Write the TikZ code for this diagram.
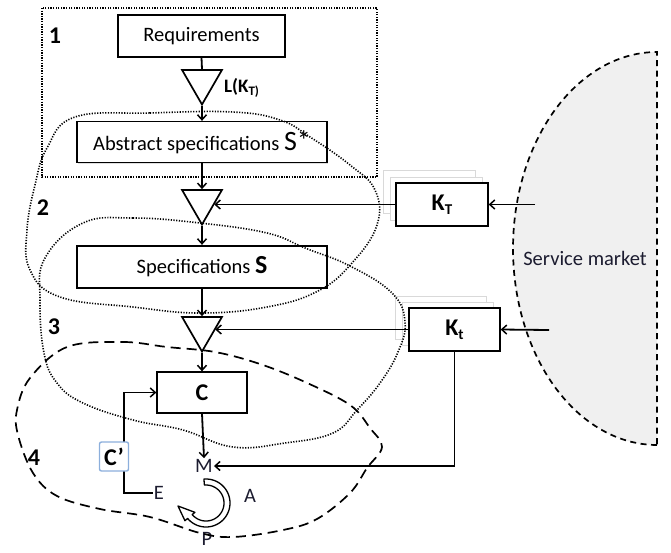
\documentclass[tikz,border=0pt]{standalone}
\usepackage{fontspec}
\setmainfont{Carlito}
\usetikzlibrary{shapes.geometric,arrows.meta,shadows,calc}
\definecolor{ink}{RGB}{28,28,48}
\definecolor{cpblue}{RGB}{140,175,220}
\begin{document}
\begin{tikzpicture}[x=1pt,y=-1pt,
  box/.style={draw, line width=1.3pt, fill=white, inner sep=0pt,
    font=\fontsize{20.5}{24}\selectfont,
    drop shadow={shadow xshift=1.3pt,shadow yshift=-1.3pt,fill=black!25}},
  kbox/.style={box, minimum width=92pt, minimum height=43pt, font=\bfseries\fontsize{24}{26}\selectfont},
  ghost/.style={draw=black!15, line width=0.9pt, fill=white, minimum width=92pt, minimum height=43pt},
  tri/.style={draw, regular polygon, regular polygon sides=3, shape border rotate=180,
    minimum size=46pt, inner sep=0pt, line width=1.7pt},
  ln/.style={line width=1.8pt},
  arr/.style={line width=1.8pt, -{Straight Barb[length=5pt,width=9pt,line width=1.5pt]}},
  lbl/.style={inner sep=1pt, text=ink, font=\fontsize{20.5}{24}\selectfont},
  num/.style={inner sep=0pt, font=\bfseries\fontsize{24}{26}\selectfont},
  dotl/.style={line width=1.6pt, dash pattern=on 1.2pt off 1.5pt},
  dashl/.style={line width=1.7pt, dash pattern=on 10pt off 6pt}
]
\useasboundingbox (0,0) rectangle (671,552);

% service market
\path[fill=black!6, draw, line width=1.7pt, dash pattern=on 6pt off 4.5pt]
  plot[domain=90:270, samples=90] ({657+144*cos(\x)},{248.5+196.5*sin(\x)}) -- cycle;
\node[inner sep=0pt, text=ink, font=\fontsize{20.5}{24}\selectfont] (sm) at (585,258) {Service market};

% region 1 box
\draw[line width=1.9pt, dash pattern=on 1.3pt off 1.3pt] (42,8) rectangle (377,177);
\node[num] (n1) at (55,36) {1};
\node[num] (n2) at (43,208) {2};
\node[num] (n3) at (54,327) {3};
\node[num] (n4) at (34,458) {4};

% main chain
\node[box, minimum width=167pt, minimum height=42pt] (req) at (201.5,36) {Requirements\hspace{12pt}};
\node[tri] (t1) at (202,81.5) {};
\node[inner sep=0pt, font=\bfseries\fontsize{19}{20}\selectfont, anchor=west] (lk) at (224,88)
  {L(K\raisebox{-0.3ex}{\fontsize{13}{13}\selectfont T)}};
\node[box, minimum width=250pt, minimum height=41pt] (abs) at (202,142)
  {Abstract specifications {\fontsize{28}{28}\selectfont S*}};
\node[tri] (t2) at (202,201.5) {};
\node[box, line width=2.3pt, minimum width=250pt, minimum height=42pt] (spec) at (202,267)
  {Specifications {\bfseries\fontsize{26}{26}\selectfont S}};
\node[tri] (t3) at (202,328.5) {};
\node[box, minimum width=90pt, minimum height=41pt, font=\bfseries\fontsize{24}{26}\selectfont] (cb) at (202,392.5) {C};

% knowledge boxes
\node[ghost] (ktg1) at (429,191.5) {};
\node[ghost] (ktg2) at (436,198.5) {};
\node[kbox] (KT) at (442,204.5) {K\raisebox{-0.35ex}{\fontsize{15}{15}\selectfont T}};
\node[ghost, minimum width=91pt] (kg1) at (440.5,317.5) {};
\node[ghost, minimum width=91pt] (kg2) at (447.5,323.5) {};
\node[kbox, minimum width=91pt] (Kt) at (454.5,329.5) {K\raisebox{-0.35ex}{\fontsize{15}{15}\selectfont t}};

% labels
\node[lbl] (M) at (204,466) {M};
\node[lbl] (E) at (159,493) {E};
\node[lbl] (A) at (250,496) {A};
\node[lbl] (P) at (207,539) {P};
\coordinate (m1) at (535,204.5);
\coordinate (m2) at (549,330);
\coordinate (cc) at (124,493);

% connectors
\draw[ln] (req.south) -- (t1.north);
\draw[arr] (t1.south) -- (abs.north);
\draw[arr] (abs.south) -- (t2.north);
\draw[arr] (t2.south) -- (spec.north);
\draw[arr] (spec.south) -- (t3.north);
\draw[arr] (t3.south) -- (cb.north);
\draw[ln] (KT.west) -- (ktg1.west |- KT.west);
\draw[arr] (ktg1.west |- KT.west) -- ($(t2.east |- KT.west)+(-2,0)$);
\draw[arr] (m1) -- (KT.east);
\draw[ln] (Kt.west) -- (kg1.west |- Kt.west);
\draw[arr] (kg1.west |- Kt.west) -- ($(t3.east |- Kt.west)+(-1,0)$);
\draw[arr] (m2) -- (Kt.east);
\draw[arr] (Kt.south) |- (M.east);
\draw[arr] (cb.south) -- (M.north);
\draw[arr] (E.west) -- (E.west -| cc) |- (cb.west);
\node[draw=cpblue, line width=1.4pt, rounded corners=2pt, fill=white,
  minimum width=29pt, minimum height=29pt, inner sep=0pt,
  font=\bfseries\fontsize{24}{26}\selectfont] (cp) at (114,456.5) {C’};

% loops
\draw[dotl] plot[smooth cycle, tension=0.7] coordinates {
  (75,117) (150,113) (233,112) (280,120) (310,137) (350,165) (375,190)
  (377,225) (352,263) (318,291) (267,307) (200,313) (133,307) (60,297)
  (30,270) (27,230) (35,185) (47,148)};
\draw[dotl] plot[smooth cycle, tension=0.7] coordinates {
  (83,223) (133,218) (200,223) (267,233) (305,248) (350,266) (392,293)
  (405,322) (398,352) (380,383) (357,410) (333,433) (285,443) (233,447)
  (183,430) (133,420) (83,403) (57,383) (44,353) (40,300) (45,258)};
\draw[dashl] plot[smooth cycle, tension=0.6] coordinates {
  (67,347) (123,342) (167,347) (215,352) (260,364) (305,382) (350,405)
  (370,428) (382,447) (367,468) (350,493) (317,519) (283,530) (233,537)
  (200,533) (150,517) (100,509) (57,496) (33,473) (18,435) (17,410) (30,378)};

% cyclic arrow M-A-P-E
\draw[line width=1.3pt, fill=white, line join=round]
  plot[domain=-95:140, samples=50] ({206+24*cos(\x)},{503+24*sin(\x)})
  -- ({206+27.5*cos(140)},{503+27.5*sin(140)})
  -- (178,506)
  -- ({206+14.5*cos(140)},{503+14.5*sin(140)})
  -- plot[domain=140:-95, samples=50] ({206+18*cos(\x)},{503+18*sin(\x)})
  -- cycle;
\end{tikzpicture}
\end{document}
